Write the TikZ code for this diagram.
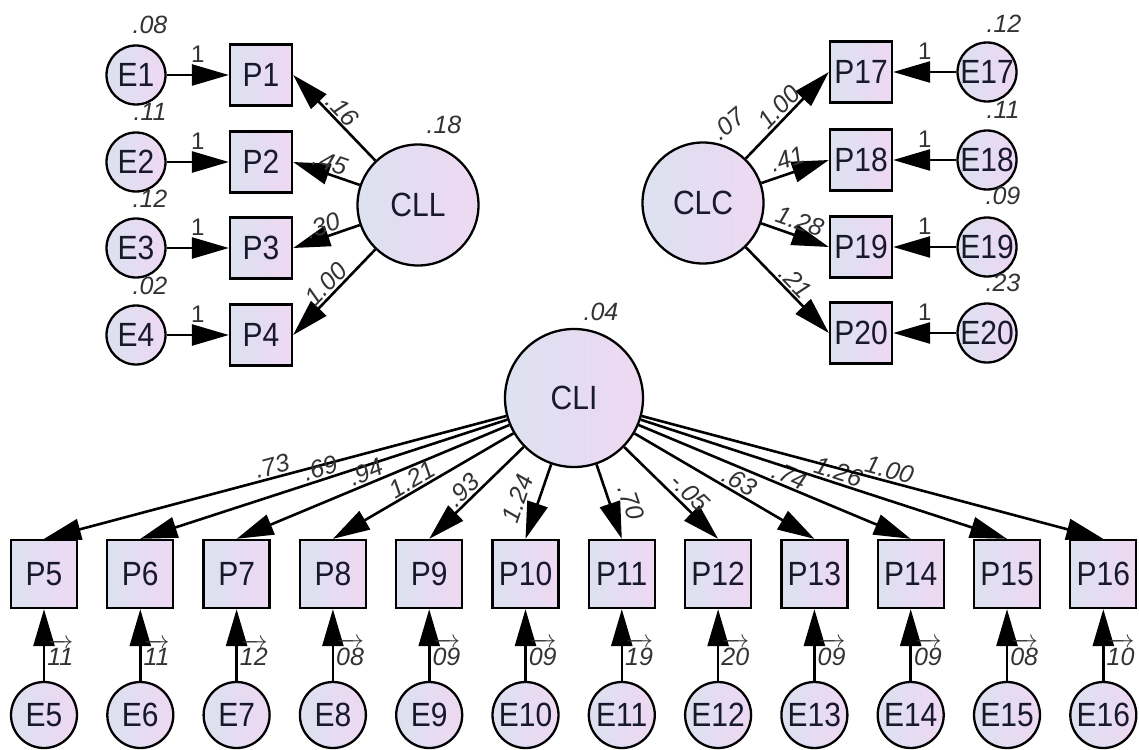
\documentclass[tikz,border=0pt]{standalone}
\usepackage{amsmath}
\usepackage{graphicx}
\usepackage{fontspec}
\setmainfont{Liberation Sans}
\usetikzlibrary{arrows.meta}
\definecolor{cA}{RGB}{220,225,240}
\definecolor{cB}{RGB}{238,216,242}
\definecolor{ink}{RGB}{25,25,45}
\definecolor{numc}{RGB}{50,50,55}
\newcommand{\oa}[1]{$\overrightarrow{\text{\itshape #1}}$}
\newcommand{\tall}[1]{\scalebox{1}[1.12]{#1}}
\tikzset{
  var/.style={draw=black, line width=2.3pt, rectangle, minimum width=62pt, minimum height=61pt,
    left color=cA, right color=cB, text=ink, inner sep=0pt, font=\fontsize{30}{32}\selectfont},
  bvar/.style={var, minimum width=66pt, minimum height=68pt},
  err/.style={draw=black, line width=2.3pt, circle, minimum size=59pt, left color=cA, right color=cB,
    text=ink, inner sep=0pt, font=\fontsize{30}{32}\selectfont},
  berr/.style={err, minimum size=66pt},
  lat/.style={err, minimum size=121pt},
  arr/.style={line width=2.6pt, -{Triangle[length=37pt,width=21pt]}},
  num/.style={font=\fontsize{25}{27}\selectfont\itshape, text=numc, inner sep=1.5pt},
  one/.style={font=\fontsize{24}{26}\selectfont, text=numc, inner sep=1.5pt, above=10pt},
}
\begin{document}
\begin{tikzpicture}[x=1pt,y=-1pt]
\useasboundingbox[fill=white] (0,0) rectangle (1139,749);
% latent variables
\node[lat] (CLL) at (418,205) {\tall{CLL}};
\node[lat] (CLC) at (703,203) {\tall{CLC}};
\node[lat, minimum size=138pt] (CLI) at (574,398) {\tall{CLI}};
% top-left
\foreach \n/\y in {1/75,2/162,3/248,4/335}{
  \node[err] (E\n) at (136,\y) {\tall{E\n}};
  \node[var] (P\n) at (261,\y) {\tall{P\n}};
}
% top-right
\foreach \n/\y in {17/72,18/160,19/247,20/333}{
  \node[var] (P\n) at (861,\y) {\tall{P\n}};
  \node[err] (E\n) at (987,\y) {\tall{E\n}};
}
% bottom
\foreach \n/\x in {5/44,6/140.3,7/236.6,8/332.9,9/429.2,10/525.5,11/621.8,12/718.1,13/814.4,14/910.7,15/1007,16/1103.3}{
  \node[bvar] (P\n) at (\x,574) {\tall{P\n}};
  \node[berr] (E\n) at (\x,715) {\tall{E\n}};
}
% variance labels
\node[num] (v1) at (150,25) {.08};
\node[num] (v2) at (150,112) {.11};
\node[num] (v3) at (150,199) {.12};
\node[num] (v4) at (150,286) {.02};
\node[num] (v17) at (1004,24) {.12};
\node[num] (v18) at (1003,110) {.11};
\node[num] (v19) at (1003,196) {.09};
\node[num] (v20) at (1003,283) {.23};
\node[num] (vCLL) at (444,125) {.18};
\node[num, rotate=40] (vCLC) at (728,124) {.07};
\node[num] (vCLI) at (601,312) {.04};
% error paths top
\foreach \n in {1,2,3,4,17,18,19,20}{
  \draw[arr] (E\n) -- node[one] {1} (P\n);
}
% CLL loadings
\draw[arr] (CLL) -- node[num, sloped, above, pos=0.5] {.16} (P1.east);
\draw[arr] (CLL) -- node[num, sloped, above, pos=0.5] {.45} (P2.east);
\draw[arr] (CLL) -- node[num, sloped, above, pos=0.5] {.30} (P3.east);
\draw[arr] (CLL) -- node[num, sloped, above, pos=0.5] {1.00} (P4.east);
% CLC loadings
\draw[arr] (CLC) -- node[num, sloped, above, pos=0.5] {1.00} (P17.west);
\draw[arr] (CLC) -- node[num, sloped, above=3pt, pos=0.45] {.41} (P18.west);
\draw[arr] (CLC) -- node[num, sloped, above=3pt, pos=0.5] {1.28} (P19.west);
\draw[arr] (CLC) -- node[num, sloped, above, pos=0.5] {.21} (P20.west);
% CLI loadings
\draw[arr] (CLI) -- node[num, sloped, above, pos=0.5] {.73} (P5.north);
\draw[arr] (CLI) -- node[num, sloped, above, pos=0.5] {.69} (P6.north);
\draw[arr] (CLI) -- node[num, sloped, above=0pt, pos=0.51] {.94} (P7.north);
\draw[arr] (CLI) -- node[num, sloped, above=0pt, pos=0.53] {1.21} (P8.north);
\draw[arr] (CLI) -- node[num, sloped, above, pos=0.56] {.93} (P9.north);
\draw[arr] (CLI) -- node[num, sloped, above=9pt, pos=0.55] {1.24} (P10.north);
\draw[arr] (CLI) -- node[num, sloped, above=9pt, pos=0.6] {.70} (P11.north);
\draw[arr] (CLI) -- node[num, sloped, above=2pt, pos=0.6] {-.05} (P12.north);
\draw[arr] (CLI) -- node[num, sloped, above, pos=0.55] {.63} (P13.north);
\draw[arr] (CLI) -- node[num, sloped, above, pos=0.54] {.74} (P14.north);
\draw[arr] (CLI) -- node[num, sloped, above, pos=0.53] {1.26} (P15.north);
\draw[arr] (CLI) -- node[num, sloped, above, pos=0.53] {1.00} (P16.north);
% bottom error paths
\foreach \n/\v in {5/11,6/11,7/12,8/08,9/09,10/09,11/19,12/20,13/09,14/09,15/08,16/10}{
  \draw[arr] (E\n) -- node[num, right, pos=0.4, inner sep=2pt] {\oa{\v}} (P\n);
}
\end{tikzpicture}
\end{document}
